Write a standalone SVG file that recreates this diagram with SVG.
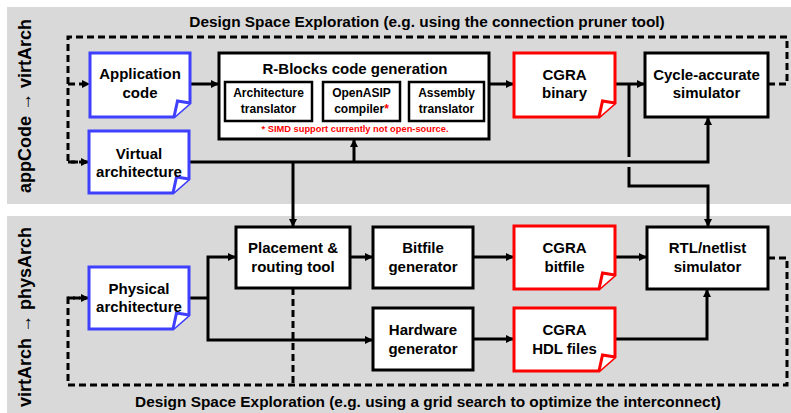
<svg xmlns="http://www.w3.org/2000/svg" width="791" height="413" viewBox="0 0 791 413">
<style>
text{font-family:"Liberation Sans",Arial,sans-serif;font-weight:bold;fill:#000;text-anchor:middle}
.n{font-size:15px}
.s{font-size:12px}
.t{font-size:15.4px}
.side{font-size:18px}
.note{font-size:9.3px;fill:#ff0000}
.box{fill:#fff;stroke:#000;stroke-width:3}
.ibox{fill:#fff;stroke:#000;stroke-width:2.5}
.docb{fill:#fff;stroke:#3f3fff;stroke-width:3;stroke-linejoin:miter}
.docr{fill:#fff;stroke:#ff0000;stroke-width:3;stroke-linejoin:miter}
.c{fill:none;stroke:#000;stroke-width:3}
.d{fill:none;stroke:#000;stroke-width:3;stroke-dasharray:7 4}
.a{marker-end:url(#ah)}
</style>
<defs>
<marker id="ah" markerUnits="userSpaceOnUse" markerWidth="9" markerHeight="9" refX="8" refY="4.5" orient="auto">
<path d="M0,0.5 L8,4.5 L0,8.5 z" fill="#000"/>
</marker>
</defs>
<rect x="7" y="7" width="784" height="197" fill="#d9d9d9"/>
<rect x="7" y="216" width="784" height="197" fill="#d9d9d9"/>
<text class="t" x="427" y="27">Design Space Exploration (e.g. using the connection pruner tool)</text>
<text class="t" x="428" y="407">Design Space Exploration (e.g. using a grid search to optimize the interconnect)</text>
<text class="side" transform="translate(31,106) rotate(-90)">appCode → virtArch</text>
<text class="side" transform="translate(31,317) rotate(-90)">virtArch → physArch</text>

<g id="connectors">
<path class="d" d="M768,84 H787 V37 H68 V162 H88"/>
<path class="d a" d="M68,162 H89"/>
<path class="d a" d="M68,84 H90"/>
<path class="c a" d="M190,84 H219"/>
<path class="c a" d="M312,101 H323"/>
<path class="c a" d="M400,101 H409"/>
<path class="c a" d="M489,84 H514"/>
<path class="c a" d="M615,84 H645"/>
<path class="c" d="M629,84 V157"/>
<path class="c a" d="M629,167 V186 H708 V227"/>
<path class="c a" d="M189,162 H708 V117"/>
<path class="c a" d="M354,162 V139"/>
<path class="c a" d="M293,162 V227"/>
<path class="c" d="M189,298 H208"/>
<path class="c a" d="M208,298 V257 H236"/>
<path class="c a" d="M208,298 V340 H373"/>
<path class="c a" d="M350,257 H373"/>
<path class="c a" d="M473,257 H514"/>
<path class="c a" d="M615,257 H647"/>
<path class="c a" d="M473,339 H514"/>
<path class="c a" d="M615,339 H707 V289"/>
<path class="d" d="M768,258 H787 V385 H68 V298 H88"/>
<path class="d a" d="M68,298 H89"/>
<path class="d" d="M293,288 V385"/>
</g>

<g id="app-code">
<path class="docb" d="M90,53 H190 V103 L174,117 H90 Z"/>
<path class="docb" d="M190,103 L177.5,101 L174,117"/>
<text class="n" x="140" y="79">Application</text>
<text class="n" x="140" y="98">code</text>
</g>
<g id="virtual-arch">
<path class="docb" d="M89,131 H189 V179 L173,193 H89 Z"/>
<path class="docb" d="M189,179 L176.5,177 L173,193"/>
<text class="n" x="139" y="159">Virtual</text>
<text class="n" x="139" y="177">architecture</text>
</g>
<g id="rblocks">
<rect class="box" x="219" y="53" width="270" height="86"/>
<text class="n" x="355" y="74">R-Blocks code generation</text>
<text class="note" x="355" y="132">* SIMD support currently not open-source.</text>
</g>
<g id="arch-translator">
<rect class="ibox" x="225" y="82" width="87" height="39"/>
<text class="s" x="268.5" y="97">Architecture</text>
<text class="s" x="268.5" y="113">translator</text>
</g>
<g id="openasip">
<rect class="ibox" x="323" y="82" width="77" height="39"/>
<text class="s" x="361.5" y="97">OpenASIP</text>
<text class="s" x="361.5" y="113">compiler<tspan fill="#ff0000">*</tspan></text>
</g>
<g id="asm-translator">
<rect class="ibox" x="409" y="82" width="75" height="39"/>
<text class="s" x="446.5" y="97">Assembly</text>
<text class="s" x="446.5" y="113">translator</text>
</g>
<g id="cgra-binary">
<path class="docr" d="M514,53 H615 V103 L599,117 H514 Z"/>
<path class="docr" d="M615,103 L602.5,101 L599,117"/>
<text class="n" x="564.5" y="80">CGRA</text>
<text class="n" x="564.5" y="98">binary</text>
</g>
<g id="cycle-sim">
<rect class="box" x="645" y="53" width="123" height="64"/>
<text class="n" x="706.5" y="80">Cycle-accurate</text>
<text class="n" x="706.5" y="98">simulator</text>
</g>
<g id="physical-arch">
<path class="docb" d="M89,267 H189 V315 L173,329 H89 Z"/>
<path class="docb" d="M189,315 L176.5,313 L173,329"/>
<text class="n" x="139" y="294">Physical</text>
<text class="n" x="139" y="312">architecture</text>
</g>
<g id="placement">
<rect class="box" x="236" y="227" width="114" height="61"/>
<text class="n" x="293" y="253">Placement &amp;</text>
<text class="n" x="293" y="272">routing tool</text>
</g>
<g id="bitfile-gen">
<rect class="box" x="373" y="227" width="100" height="61"/>
<text class="n" x="423" y="253">Bitfile</text>
<text class="n" x="423" y="272">generator</text>
</g>
<g id="hw-gen">
<rect class="box" x="373" y="308" width="100" height="62"/>
<text class="n" x="423" y="335">Hardware</text>
<text class="n" x="423" y="354">generator</text>
</g>
<g id="cgra-bitfile">
<path class="docr" d="M514,226 H615 V275 L599,289 H514 Z"/>
<path class="docr" d="M615,275 L602.5,273 L599,289"/>
<text class="n" x="564.5" y="253">CGRA</text>
<text class="n" x="564.5" y="272">bitfile</text>
</g>
<g id="cgra-hdl">
<path class="docr" d="M514,308 H615 V357 L599,371 H514 Z"/>
<path class="docr" d="M615,357 L602.5,355 L599,371"/>
<text class="n" x="564.5" y="335">CGRA</text>
<text class="n" x="564.5" y="354">HDL files</text>
</g>
<g id="rtl-sim">
<rect class="box" x="647" y="227" width="121" height="62"/>
<text class="n" x="707.5" y="253">RTL/netlist</text>
<text class="n" x="707.5" y="272">simulator</text>
</g>
</svg>
